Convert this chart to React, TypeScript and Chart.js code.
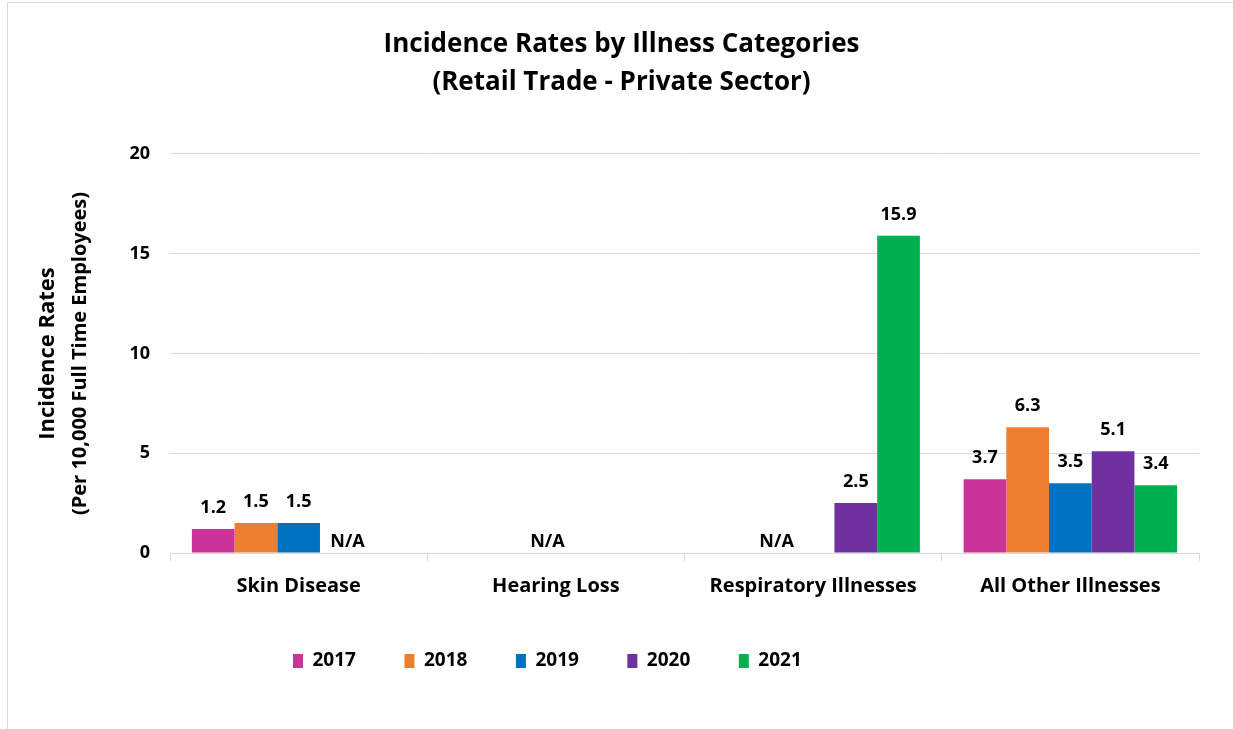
import { useEffect, useRef } from "react";
import { Chart, registerables } from "chart.js";

Chart.register(...registerables);

const categories = ["Skin Disease", "Hearing Loss", "Respiratory Illnesses", "All Other Illnesses"];
const years = ["2017", "2018", "2019", "2020", "2021"];
const values2017 = [1.2, null, null, 3.7];
const values2018 = [1.5, null, null, 6.3];
const values2019 = [1.5, null, null, 3.5];
const values2020 = [null, null, 2.5, 5.1];
const values2021 = [null, null, 15.9, 3.4];
const seriesValues = [values2017, values2018, values2019, values2020, values2021];
const colors = ["#CC3399", "#ED7D31", "#0070C0", "#7030A0", "#00B050"];
const naCategoryIndex = [0, 1, 2];
const naOffsets = [0.19, -0.033, -0.142];
const titleLines = ["Incidence Rates by Illness Categories", "(Retail Trade - Private Sector)"];
const yTitleLines = ["Incidence Rates", "(Per 10,000 Full Time Employees)"];
const yMin = 0;
const yMax = 20;
const yStep = 5;

const FONT = "'Open Sans', Lato, sans-serif";

const valueLabels = {
  id: "valueLabels",
  afterDatasetsDraw(chart: any) {
    const ctx = chart.ctx;
    ctx.save();
    ctx.fillStyle = "#000";
    ctx.font = `bold 18px ${FONT}`;
    ctx.textAlign = "center";
    ctx.textBaseline = "alphabetic";
    chart.data.datasets.forEach((ds: any, i: number) => {
      const meta = chart.getDatasetMeta(i);
      meta.data.forEach((bar: any, j: number) => {
        const v = ds.data[j];
        if (v === null || v === undefined) return;
        ctx.fillText(Number(v).toFixed(1), bar.x, bar.y - 16);
      });
    });
    const xs = chart.scales.x;
    const ys = chart.scales.y;
    const catW = xs.width / categories.length;
    naCategoryIndex.forEach((ci, k) => {
      const x = xs.getPixelForValue(ci) + naOffsets[k] * catW;
      ctx.fillText("N/A", x, ys.getPixelForValue(0) - 6);
    });
    ctx.restore();
  },
};

const yTitle = {
  id: "yTitle",
  afterDraw(chart: any) {
    const ctx = chart.ctx;
    const ca = chart.chartArea;
    const cy = (ca.top + ca.bottom) / 2;
    const draw = (text: string, dx: number, size: number) => {
      ctx.save();
      ctx.fillStyle = "#000";
      ctx.textAlign = "center";
      ctx.textBaseline = "middle";
      ctx.translate(ca.left - dx, cy);
      ctx.rotate(-Math.PI / 2);
      ctx.font = `bold ${size}px ${FONT}`;
      ctx.fillText(text, 0, 0);
      ctx.restore();
    };
    draw(yTitleLines[0], 122, 22);
    draw(yTitleLines[1], 90, 20);
  },
};

const blockShift = {
  id: "blockShift",
  afterLayout(chart: any) {
    const lg = chart.legend;
    if (lg) {
      const w = lg.right - lg.left;
      lg.left = 293 - 48.5;
      lg.right = lg.left + w;
    }
    const tb = chart.titleBlock;
    if (tb) {
      tb.left += 22;
      tb.right += 22;
    }
  },
};

export default function App() {
  const ref = useRef<HTMLCanvasElement | null>(null);
  useEffect(() => {
    document.body.style.margin = "0";
    if (!ref.current) return;
    const chart = new Chart(ref.current, {
      type: "bar",
      data: {
        labels: categories,
        datasets: years.map((y, i) => ({
          label: y,
          data: seriesValues[i],
          backgroundColor: colors[i],
          borderColor: colors[i],
          borderWidth: 0,
          categoryPercentage: 0.83,
          barPercentage: 1,
        })),
      },
      options: {
        responsive: false,
        animation: false,
        devicePixelRatio: 1,
        layout: { padding: { left: 0, right: 34, top: 0, bottom: 48.5 } },
        plugins: {
          title: {
            display: true,
            text: titleLines,
            color: "#000",
            font: { family: FONT, size: 26, weight: "bold", lineHeight: 1.4615 },
            padding: { top: 25.5, bottom: 52.5 },
          },
          legend: {
            position: "bottom",
            align: "start",
            labels: {
              boxWidth: 10,
              boxHeight: 14,
              padding: 48.5,
              color: "#000",
              font: { family: FONT, size: 19, weight: "bold" },
            },
          },
          tooltip: { enabled: false },
        },
        scales: {
          x: {
            grid: { display: true, drawOnChartArea: false, drawTicks: true, tickLength: 8, color: "#D9D9D9", offset: true },
            border: { display: true, color: "#D9D9D9", width: 1 },
            ticks: { color: "#000", font: { family: FONT, size: 20, weight: "bold" }, padding: 13, maxRotation: 0, autoSkip: false },
            afterFit: (s: any) => { s.height = 50; },
          },
          y: {
            min: yMin,
            max: yMax,
            ticks: { stepSize: yStep, padding: 20, color: "#000", font: { family: FONT, size: 18, weight: "bold" } },
            grid: { color: "#D9D9D9", drawTicks: false },
            border: { display: false },
            afterFit: (s: any) => { s.width = 170; },
          },
        },
      },
      plugins: [valueLabels, yTitle, blockShift],
    } as any);
    return () => chart.destroy();
  }, []);
  return (
    <div style={{ position: "relative", width: 1233, height: 729, background: "#fff" }}>
      <canvas ref={ref} width={1233} height={729} style={{ display: "block" }} />
      <div style={{ position: "absolute", left: 7, top: 2, width: 1240, height: 740, border: "1px solid #D9D9D9", pointerEvents: "none" }} />
    </div>
  );
}
